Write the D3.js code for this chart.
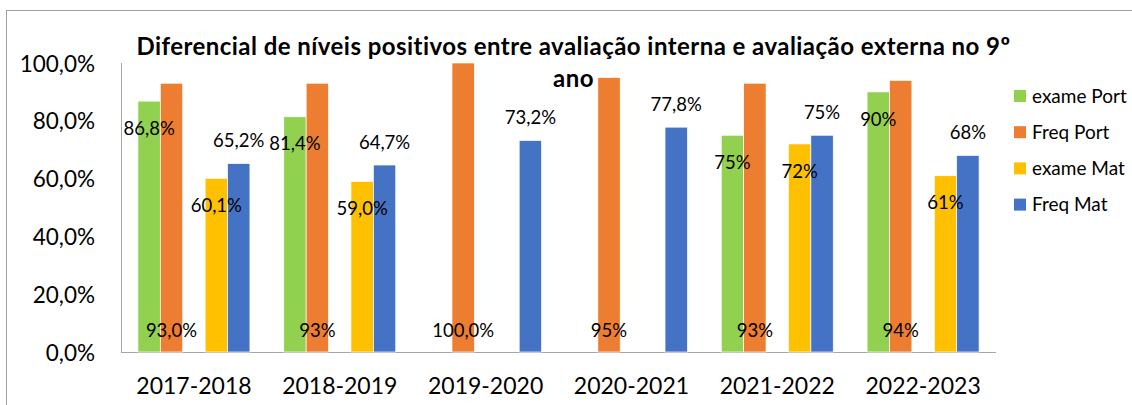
<!DOCTYPE html>
<meta charset="utf-8">
<style>
body { margin: 0; background: #fff; }
svg text { font-family: Lato, "Liberation Sans", sans-serif; fill: #000; }
.axis path, .axis line { stroke: #a6a6a6; }
</style>
<body>
<svg id="chart" width="1132" height="405"></svg>
<script src="https://d3js.org/d3.v7.min.js"></script>
<script>
// data
var categories = ["2017-2018", "2018-2019", "2019-2020", "2020-2021", "2021-2022", "2022-2023"];
var seriesNames = ["exame Port", "Freq Port", "exame Mat", "Freq Mat"];
var examePort = [86.8, 81.4, null, null, 75, 90];
var freqPort = [93.0, 93, 100, 95, 93, 94];
var exameMat = [60.1, 59.0, null, null, 72, 61];
var freqMat = [65.2, 64.7, 73.2, 77.8, 75, 68];
var examePortLabels = ["86,8%", "81,4%", "", "", "75%", "90%"];
var freqPortLabels = ["93,0%", "93%", "100,0%", "95%", "93%", "94%"];
var exameMatLabels = ["60,1%", "59,0%", "", "", "72%", "61%"];
var freqMatLabels = ["65,2%", "64,7%", "73,2%", "77,8%", "75%", "68%"];
var yTicks = [0, 20, 40, 60, 80, 100];

var colors = ["#92d050", "#ed7d31", "#ffc000", "#4472c4"];
// slots in each cluster; the middle one stays empty like in the original
var slots = ["exame Port", "Freq Port", "gap", "exame Mat", "Freq Mat"];

var series = [
  {name: seriesNames[0], values: examePort, labels: examePortLabels, pos: "belowTop"},
  {name: seriesNames[1], values: freqPort, labels: freqPortLabels, pos: "base"},
  {name: seriesNames[2], values: exameMat, labels: exameMatLabels, pos: "belowTop"},
  {name: seriesNames[3], values: freqMat, labels: freqMatLabels, pos: "above"}
];

var svg = d3.select("#chart");
var plotLeft = 121, plotRight = 996, plotTop = 63, plotBottom = 352;

// outer frame (cut off at right and bottom in the original)
svg.append("rect")
  .attr("x", 6.5).attr("y", 10.5)
  .attr("width", 1200).attr("height", 500)
  .attr("fill", "none").attr("stroke", "#a0a0a0");

var x = d3.scaleBand().domain(categories).range([plotLeft, plotRight]).padding(0);
var x1 = d3.scaleBand().domain(slots).range([0, x.bandwidth()]).paddingOuter(0.755).paddingInner(0);
var y = d3.scaleLinear().domain([0, 100]).range([plotBottom, plotTop]);

var fmt = d3.formatLocale({decimal: ",", thousands: ".", grouping: [3], currency: ["", "€"]}).format(".1f");

// y axis
var yAxis = svg.append("g").attr("class", "axis")
  .attr("transform", "translate(" + plotLeft + ",0)")
  .call(d3.axisLeft(y).tickValues(yTicks).tickSize(0).tickPadding(26).tickFormat(function(d){ return fmt(d) + "%"; }));
yAxis.select(".domain").attr("d", "M0.5," + plotTop + "V" + plotBottom);
yAxis.selectAll("text").style("font-size", "22.5px").attr("dy", "0.36em");

// x axis
var xAxis = svg.append("g").attr("class", "axis")
  .attr("transform", "translate(0," + plotBottom + ")")
  .call(d3.axisBottom(x).tickSize(0).tickPadding(26));
xAxis.select(".domain").attr("d", "M" + plotLeft + ",0.5H" + plotRight);
xAxis.selectAll("text").style("font-size", "23px").attr("dy", "0.71em");

// bars
series.forEach(function(s, i){
  var data = categories.map(function(c, j){ return {cat: c, v: s.values[j], label: s.labels[j]}; })
    .filter(function(d){ return d.v != null; });

  svg.append("g").selectAll("rect").data(data).enter().append("rect")
    .attr("x", function(d){ return x(d.cat) + x1(s.name); })
    .attr("y", function(d){ return y(d.v); })
    .attr("width", x1.bandwidth())
    .attr("height", function(d){ return plotBottom - y(d.v); })
    .attr("fill", colors[i])
    .attr("stroke", "#fff").attr("stroke-width", 0.7);
});

// data labels, drawn after all bars so they sit on top
series.forEach(function(s){
  var data = categories.map(function(c, j){ return {cat: c, v: s.values[j], label: s.labels[j]}; })
    .filter(function(d){ return d.v != null; });
  svg.append("g").selectAll("text").data(data).enter().append("text")
    .attr("x", function(d){ return x(d.cat) + x1(s.name) + x1.bandwidth() / 2; })
    .attr("y", function(d){
      if (s.pos == "base") return plotBottom - 22;
      if (s.pos == "above") return y(d.v) - 23;
      return y(d.v) + 27;
    })
    .attr("dy", "0.36em")
    .attr("text-anchor", "middle")
    .style("font-size", "18.5px")
    .text(function(d){ return d.label; });
});

// title
var title = svg.append("text")
  .attr("x", 573.5).attr("y", 55)
  .attr("text-anchor", "middle")
  .style("font-size", "24px").style("font-weight", "bold").style("letter-spacing", "0.45px");
title.append("tspan").attr("x", 573.5).text("Diferencial de níveis positivos entre avaliação interna e avaliação externa no 9º");
title.append("tspan").attr("x", 573.5).attr("dy", 32).text("ano");

// legend
var legend = svg.append("g").attr("transform", "translate(1014,96)");
seriesNames.forEach(function(n, i){
  var row = legend.append("g").attr("transform", "translate(0," + (i * 36.2) + ")");
  row.append("rect").attr("x", 0).attr("y", -6).attr("width", 12).attr("height", 12).attr("fill", colors[i]);
  row.append("text").attr("x", 18).attr("dy", "0.36em").style("font-size", "19px").text(n);
});
</script>
</body>
